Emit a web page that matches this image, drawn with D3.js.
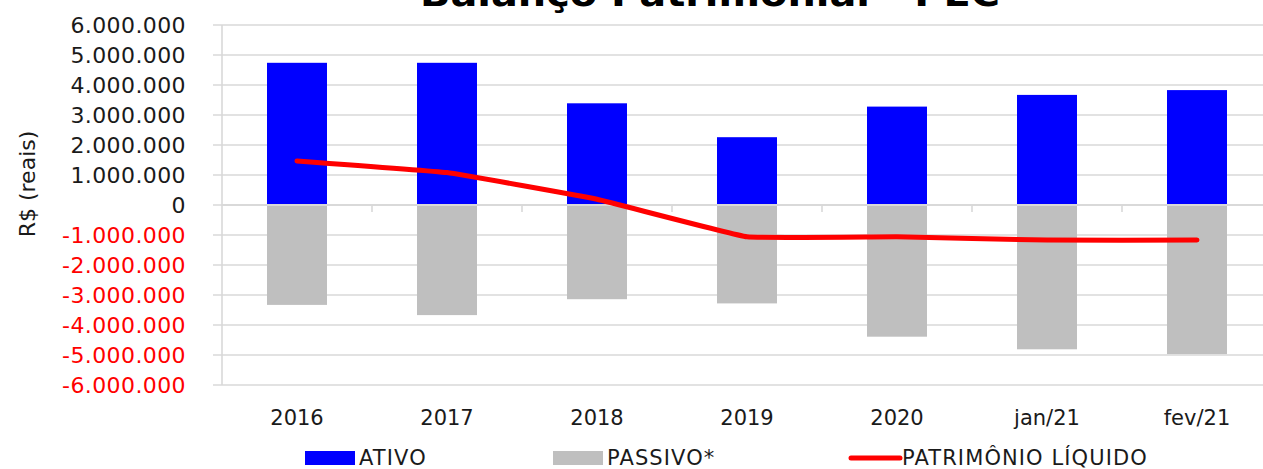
<!DOCTYPE html>
<html><head><meta charset="utf-8">
<script src="https://cdn.jsdelivr.net/npm/d3@7"></script>
<style>html,body{margin:0;padding:0;background:#fff;overflow:hidden}</style>
</head><body>
<svg id="chart" width="1263" height="469"></svg>
<script>
const categories = ["2016","2017","2018","2019","2020","jan/21","fev/21"];
const ativo = [4740000, 4740000, 3390000, 2260000, 3280000, 3670000, 3830000];
const passivo = [-3330000, -3670000, -3140000, -3280000, -4390000, -4810000, -4970000];
const patrimonio = [1470000, 1080000, 190000, -1060000, -1060000, -1170000, -1170000];
const yTicks = [6000000,5000000,4000000,3000000,2000000,1000000,0,-1000000,-2000000,-3000000,-4000000,-5000000,-6000000];
const seriesNames = ["ATIVO","PASSIVO*","PATRIMÔNIO LÍQUIDO"];
const titleText = "Balanço Patrimonial - PEC";
const yTitle = "R$ (reais)";

const FONT = "'DejaVu Sans', sans-serif";
const svg = d3.select("#chart");
const pLeft = 222, pRight = 1272, pTop = 25, pBottom = 385;
const x = d3.scaleBand().domain(categories).range([pLeft, pRight]).paddingInner(0.6).paddingOuter(0.3);
const y = d3.scaleLinear().domain([-6000000, 6000000]).range([pBottom, pTop]);
const loc = d3.formatLocale({decimal: ",", thousands: ".", grouping: [3], currency: ["R$", ""], minus: "-"});
const fmt = loc.format(",d");
const grid = "#d9d9d9";

// title (clipped at top, as in the reference)
svg.append("text").attr("x", 710).attr("y", 6).attr("text-anchor", "middle")
  .attr("font-family", FONT).attr("font-weight", "bold").attr("font-size", 36)
  .attr("textLength", 580).attr("lengthAdjust", "spacingAndGlyphs")
  .attr("fill", "#000").text(titleText);

// gridlines
svg.append("g").selectAll("line").data(yTicks).join("line")
  .attr("x1", pLeft - 9).attr("x2", 1263).attr("y1", d => y(d)).attr("y2", d => y(d))
  .attr("stroke", grid).attr("stroke-width", 1.6);

// y axis line
svg.append("line").attr("x1", pLeft).attr("x2", pLeft).attr("y1", y(6000000)).attr("y2", y(-6000000))
  .attr("stroke", grid).attr("stroke-width", 1.6);

// y tick labels
svg.append("g").selectAll("text").data(yTicks).join("text")
  .attr("x", 186).attr("y", d => y(d)).attr("dy", "0.36em").attr("text-anchor", "end")
  .attr("font-family", FONT).attr("font-size", 22).attr("letter-spacing", 0.4)
  .attr("fill", d => d < 0 ? "#ff0000" : "#1a1a1a").text(d => fmt(d));

// y title
svg.append("text").attr("transform", "translate(35,184) rotate(-90)").attr("text-anchor", "middle")
  .attr("font-family", FONT).attr("font-size", 22).attr("fill", "#1a1a1a").text(yTitle);

// bars
svg.append("g").selectAll("rect").data(categories).join("rect")
  .attr("x", d => x(d)).attr("width", x.bandwidth())
  .attr("y", (d, i) => y(ativo[i])).attr("height", (d, i) => y(0) - y(ativo[i]))
  .attr("fill", "#0000ff");
svg.append("g").selectAll("rect").data(categories).join("rect")
  .attr("x", d => x(d)).attr("width", x.bandwidth())
  .attr("y", y(0)).attr("height", (d, i) => y(passivo[i]) - y(0))
  .attr("fill", "#bfbfbf");

// zero axis with ticks at category boundaries
svg.append("line").attr("x1", pLeft).attr("x2", 1263).attr("y1", y(0)).attr("y2", y(0))
  .attr("stroke", grid).attr("stroke-width", 2);
const step = x.step();
const bounds = d3.range(1, categories.length).map(i => x(categories[i]) - step * x.paddingInner() / 2 );
svg.append("g").selectAll("line").data(bounds).join("line")
  .attr("x1", d => d).attr("x2", d => d).attr("y1", y(0)).attr("y2", y(0) + 7)
  .attr("stroke", grid).attr("stroke-width", 1.6);

// x labels
svg.append("g").selectAll("text").data(categories).join("text")
  .attr("x", d => x(d) + x.bandwidth() / 2).attr("y", 425).attr("text-anchor", "middle")
  .attr("font-family", FONT).attr("font-size", 21).attr("fill", "#1a1a1a").text(d => d);

// line
const line = d3.line().x((d, i) => x(categories[i]) + x.bandwidth() / 2).y(d => y(d)).curve(d3.curveCardinal.tension(0.75));
svg.append("path").datum(patrimonio).attr("d", line).attr("fill", "none")
  .attr("stroke", "#ff0000").attr("stroke-width", 5).attr("stroke-linecap", "round").attr("stroke-linejoin", "round");

// legend
const lg = svg.append("g");
const items = [
  {name: seriesNames[0], x: 305, type: "rect", color: "#0000ff"},
  {name: seriesNames[1], x: 553, type: "rect", color: "#bfbfbf"},
  {name: seriesNames[2], x: 848, type: "line", color: "#ff0000"}
];
items.forEach(it => {
  if (it.type === "rect") {
    lg.append("rect").attr("x", it.x).attr("y", 451).attr("width", 50).attr("height", 14).attr("fill", it.color);
  } else {
    lg.append("line").attr("x1", it.x + 3).attr("x2", it.x + 52).attr("y1", 458).attr("y2", 458)
      .attr("stroke", it.color).attr("stroke-width", 5).attr("stroke-linecap", "round");
  }
  lg.append("text").attr("x", it.x + 54).attr("y", 465).attr("font-family", FONT).attr("font-size", 21)
    .attr("letter-spacing", 1.1).attr("fill", "#1a1a1a").text(it.name);
});
</script>
</body></html>
